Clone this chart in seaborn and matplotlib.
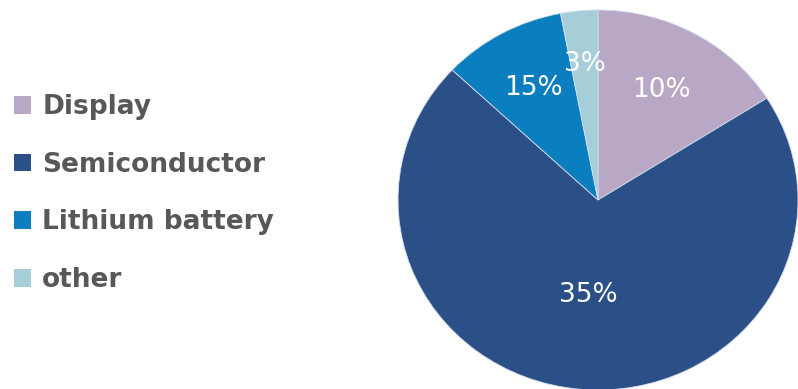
import numpy as np
import matplotlib
matplotlib.use("Agg")
import matplotlib.pyplot as plt
import seaborn as sns

sns.set_theme(style="white")
plt.rcParams['font.family'] = ['DejaVu Sans']

categories = ["Display", "Semiconductor", "Lithium battery", "other"]
slice_shares = [16, 71, 10, 3]          # angular share
label_texts = ["10%", "35%", "15%", "3%"]  # printed labels as shown
colors = ["#b8a8c6", "#2b5088", "#0b7ec0", "#a6ced8"]
label_radius = [0.66, 0.50, 0.67, 0.72]

fig = plt.figure(figsize=(7.98, 3.89), dpi=100)
fig.patch.set_facecolor("white")

W, H = 798, 389
cx, cy = 598, 389 - 200
rx, ry = 200, 190
ax = fig.add_axes([(cx - rx) / W, (cy - ry) / H, 2 * rx / W, 2 * ry / H])

wedges, _ = ax.pie(slice_shares, colors=colors, startangle=90, counterclock=False,
                   wedgeprops=dict(edgecolor="#d0dcea", linewidth=0.6))
ax.set_aspect("auto")
ax.set_xlim(-1, 1)
ax.set_ylim(-1, 1)

for w, txt, r in zip(wedges, label_texts, label_radius):
    mid = np.deg2rad((w.theta1 + w.theta2) / 2)
    ax.text(r * np.cos(mid), r * np.sin(mid), txt, ha="center", va="center",
            color="white", fontsize=19)

leg = fig.legend(wedges, categories, loc="upper left",
                 bbox_to_anchor=(14 / W, 1 - 94 / H),
                 frameon=False, handlelength=0.65, handleheight=0.65,
                 handletextpad=0.42, labelspacing=1.2, labelcolor="#585858",
                 borderpad=0, borderaxespad=0,
                 prop=dict(size=19, weight="bold"))
for h in leg.legend_handles:
    h.set_edgecolor("none")

fig.savefig("out.png", dpi=100, facecolor="white")
